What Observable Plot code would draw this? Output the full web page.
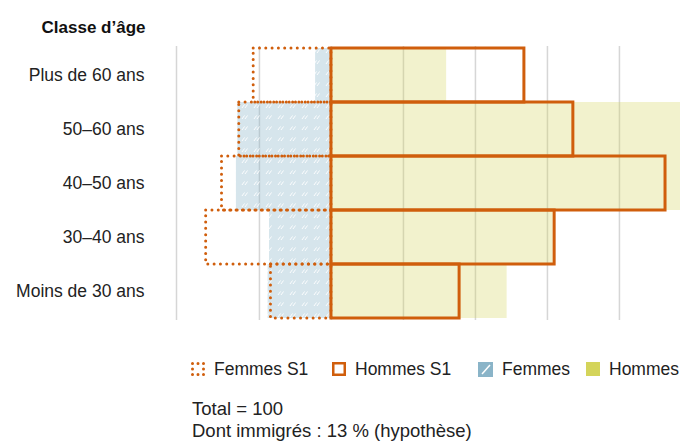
<!DOCTYPE html>
<html><head><meta charset="utf-8">
<script src="https://cdn.jsdelivr.net/npm/d3@7"></script>
<script src="https://cdn.jsdelivr.net/npm/@observablehq/plot@0.6"></script>
<style>
body{margin:0;background:#fff;font-family:"Liberation Sans",Arial,sans-serif;color:#222}
#wrap{position:relative;width:680px;height:441px;overflow:hidden}
#wrap svg.plot{position:absolute;left:0;top:0}
.item{position:absolute;top:360px;height:18px;display:flex;align-items:center;font-size:17.5px;white-space:nowrap}
.item svg{margin-right:9px}
.cap{position:absolute;left:192px;font-size:18.5px;white-space:nowrap}
</style>
</head><body><div id="wrap"></div>
<script>
const categories = ["Plus de 60 ans", "50–60 ans", "40–50 ans", "30–40 ans", "Moins de 30 ans"];
const femmes   = [1.1, 6.5, 6.6, 4.3, 4.4];
const hommes   = [8.0, 26, 27, 15.4, 12.2];
const femmesS1 = [5.4, 6.4, 7.6, 8.7, 4.2];
const hommesS1 = [13.4, 16.8, 23.2, 15.5, 8.9];
const gridTicks = [-10.76, -5, 0, 5, 10, 15, 20];
const xDomain = [-10.76, 24.24];
const yTitle = "Classe d’âge";
const legendLabels = ["Femmes S1", "Hommes S1", "Femmes", "Hommes"];
const captionLines = ["Total = 100", "Dont immigrés : 13 % (hypothèse)"];

const ORANGE = "#d05e0c", BLUE = "#8ab4c8", YELLOW = "#d4d45a";

const table = categories.map((c, i) => ({cat: c, f: femmes[i], h: hommes[i], fs1: femmesS1[i], hs1: hommesS1[i]}));

const chart = Plot.plot({
  width: 680, height: 330,
  marginLeft: 176, marginRight: 0, marginTop: 46, marginBottom: 10,
  style: {fontFamily: "'Liberation Sans', Arial, sans-serif", fontSize: "17.5px", color: "#222", background: "#fff"},
  x: {domain: xDomain, axis: null},
  y: {domain: categories, padding: 0, label: null, tickSize: 0, tickPadding: 32},
  marks: [
    Plot.ruleX(gridTicks, {stroke: "#d6d6d6", strokeWidth: 1.5}),
    Plot.barX(table, {y: "cat", x1: 0, x2: d => -d.f, fill: "url(#hatchF)"}),
    Plot.barX(table, {y: "cat", x1: 0, x2: "h", fill: YELLOW, fillOpacity: 0.3}),
    Plot.barX(table, {y: "cat", x1: 0, x2: d => -d.fs1, fill: "none", stroke: ORANGE, strokeWidth: 3, strokeDasharray: "0 6.3", strokeLinecap: "round"}),
    Plot.barX(table, {y: "cat", x1: 0, x2: "hs1", fill: "none", stroke: ORANGE, strokeWidth: 3}),
    Plot.text([yTitle], {frameAnchor: "top-left", dx: -31, dy: -26, textAnchor: "end", fontWeight: "bold", fontSize: 17, fill: "#111"})
  ]
});

const defs = d3.select(chart).insert("defs", ":first-child");
const pat = defs.append("pattern").attr("id", "hatchF").attr("patternUnits", "userSpaceOnUse").attr("width", 12).attr("height", 11);
pat.append("rect").attr("width", 12).attr("height", 11).attr("fill", BLUE).attr("fill-opacity", 0.35);
pat.append("path").attr("d", "M2,9 L4.5,5.5 M5,9 L7.5,5.5").attr("stroke", "#fff").attr("stroke-width", 1).attr("stroke-opacity", 0.9);

const wrap = document.getElementById("wrap");
wrap.appendChild(chart);

// legend
const swatches = [
  `<svg width="14" height="14"><rect x="1.5" y="1.5" width="11" height="11" fill="none" stroke="${ORANGE}" stroke-width="3" stroke-dasharray="0 5.5" stroke-linecap="round"/></svg>`,
  `<svg width="14" height="14"><rect x="1.25" y="1.25" width="11.5" height="11.5" fill="none" stroke="${ORANGE}" stroke-width="2.5"/></svg>`,
  `<svg width="15" height="15"><rect width="15" height="15" fill="${BLUE}"/><path d="M4,12 L12,3" stroke="#fff" stroke-width="1.5"/></svg>`,
  `<svg width="14" height="14"><rect width="14" height="14" fill="${YELLOW}"/></svg>`
];
const lefts = [191, 332, 478, 586];
legendLabels.forEach((l, i) => {
  const d = document.createElement("div");
  d.className = "item";
  d.style.left = lefts[i] + "px";
  d.innerHTML = swatches[i] + `<span>${l}</span>`;
  wrap.appendChild(d);
});
captionLines.forEach((t, i) => {
  const d = document.createElement("div");
  d.className = "cap";
  d.style.top = (398 + i * 22) + "px";
  d.textContent = t;
  wrap.appendChild(d);
});
</script>
</body></html>
